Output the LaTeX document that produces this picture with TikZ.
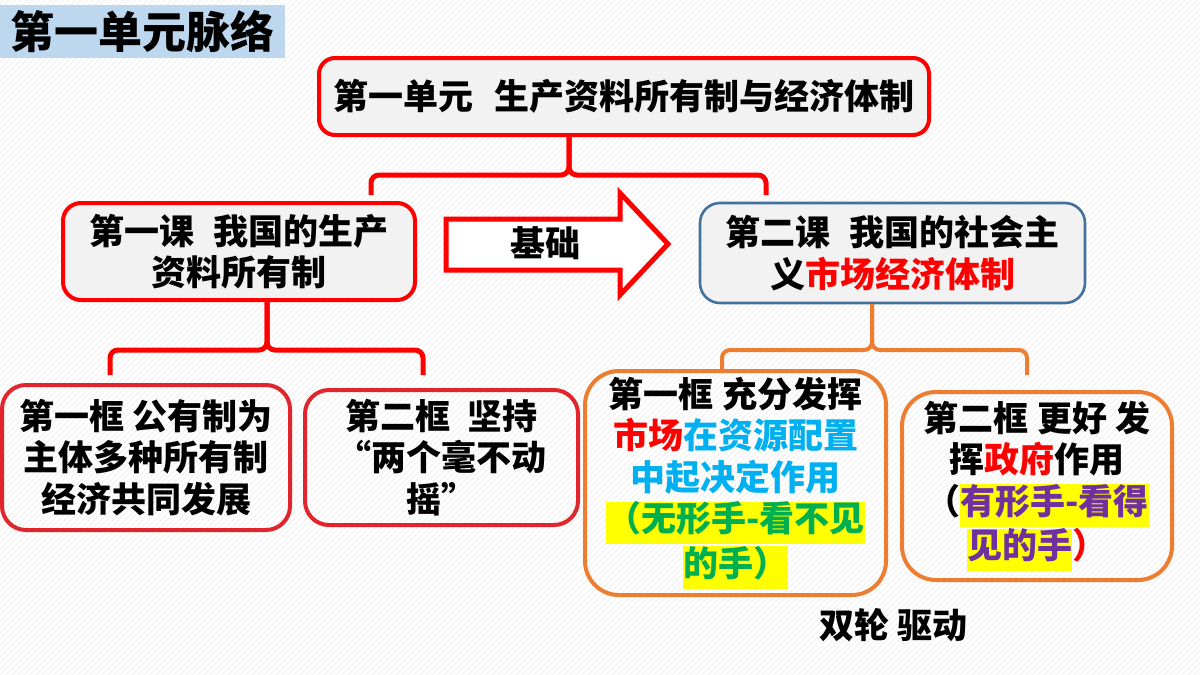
\documentclass[tikz,border=0pt]{standalone}
\usepackage{fontspec}
\setmainfont{Noto Sans CJK SC}
\usetikzlibrary{patterns}
\definecolor{boxgray}{HTML}{F2F2F2}
\definecolor{titleblue}{HTML}{BDD7EE}
\definecolor{steelblue}{HTML}{41719C}
\definecolor{frameRed}{HTML}{E0262C}
\definecolor{orangeline}{HTML}{ED7D31}
\definecolor{cyantext}{HTML}{00B0F0}
\definecolor{greentext}{HTML}{00B050}
\definecolor{purpletext}{HTML}{7030A0}
\definecolor{hlyellow}{HTML}{FFFF00}
\newcommand\hlbox[1]{{\setlength\fboxsep{0pt}\colorbox{hlyellow}{\strut #1}}}
\begin{document}
\begin{tikzpicture}[x=0.5pt,y=-0.5pt,
  cjk/.style={font=\bfseries\fontsize{17.5}{20.75}\selectfont},
  box/.style={cjk, draw, align=center, inner sep=0pt, line width=2pt},
  redbox/.style={box, draw=red, fill=boxgray, rounded corners=9pt},
  bluebox/.style={box, draw=steelblue, line width=1.3pt, fill=boxgray, rounded corners=10pt},
  framebox/.style={box, draw=frameRed, rounded corners=12pt},
  orangebox/.style={box, draw=orangeline, rounded corners=17pt},
  redconn/.style={draw=red, line width=2.5pt, rounded corners=4pt},
  orangeconn/.style={draw=orangeline, line width=2pt, rounded corners=4pt}
]
\useasboundingbox (0,0) rectangle (1200,675);
\fill[white] (0,0) rectangle (1200,675);
\fill[pattern=north east lines, pattern color=black!6] (0,0) rectangle (1200,675);

% title
\node[fill=titleblue, minimum width=142.5pt, minimum height=26.5pt, inner sep=0pt,
  font=\bfseries\fontsize{22}{26}\selectfont] (title) at (142.5,31.5) {第一单元脉络};

% top
\node[redbox, minimum width=305pt, minimum height=38.5pt, rounded corners=8pt] (top) at (624,96.5)
  {第一单元\hspace{0.6em}生产资料所有制与经济体制};

% lessons
\node[redbox, minimum width=176pt, minimum height=48.5pt] (L1) at (239,251.5)
  {第一课\hspace{0.55em}我国的生产\\资料所有制};
\node[bluebox, minimum width=192.5pt, minimum height=50pt] (R1) at (892.5,253)
  {第二课\hspace{0.55em}我国的社会主\\义\textcolor{red}{市场经济体制}};

% frames
\node[framebox, minimum width=144pt, minimum height=72.5pt] (L2a) at (146,457.5)
  {第一框 公有制为\\主体多种所有制\\经济共同发展};
\node[framebox, minimum width=136.5pt, minimum height=67.5pt] (L2b) at (441.5,457.5)
  {第二框\hspace{0.5em}坚持\\“两个毫不动\\摇”};
\node[orangebox, minimum width=150.5pt, minimum height=112pt] (R2a) at (735.5,483)
  {第一框 充分发挥\\
   \textcolor{red}{市场}\textcolor{cyantext}{在资源配置}\\
   \textcolor{cyantext}{中起决定作用}\\
   \hlbox{\textcolor{greentext}{（无形手-看不见}}\\
   \hlbox{\textcolor{greentext}{的手）}}};
\node[orangebox, minimum width=135pt, minimum height=94pt] (R2b) at (1037,486)
  {第二框 更好 发\\
   挥\textcolor{red}{政府}作用\\
   （\hlbox{\textcolor{purpletext}{有形手-看得}}\\
   \hlbox{\textcolor{purpletext}{见的手}}\textcolor{red}{）}};

\node[cjk] (wheel) at (893,625) {双轮 驱动};

% block arrow
\draw[red, line width=2.5pt, fill=white, line join=miter]
  (446,219) -- (620,219) -- (620,193) -- (668,244) -- (620,295) -- (620,270) -- (446,270) -- cycle;
\node[cjk] (base) at (545,243) {基础};

% connectors top
\coordinate (tj) at (569,175);
\coordinate (tl) at (371,195);
\coordinate (tr) at (766,195);
\draw[redconn] (tl) |- (tj) -- (tj |- top.south);
\draw[redconn] (tr) |- (tj) -- (tj |- top.south);

% connectors left
\coordinate (lj) at (267,350);
\coordinate (ll) at (110,375);
\coordinate (lr) at (423,375);
\draw[redconn] (ll) |- (lj) -- (lj |- L1.south);
\draw[redconn] (lr) |- (lj) -- (lj |- L1.south);

% connectors right
\coordinate (rj) at (872,350);
\coordinate (rl) at (722,371);
\coordinate (rr) at (1027,375);
\draw[orangeconn] (rl) |- (rj) -- (rj |- R1.south);
\draw[orangeconn] (rr) |- (rj) -- (rj |- R1.south);
\end{tikzpicture}
\end{document}
